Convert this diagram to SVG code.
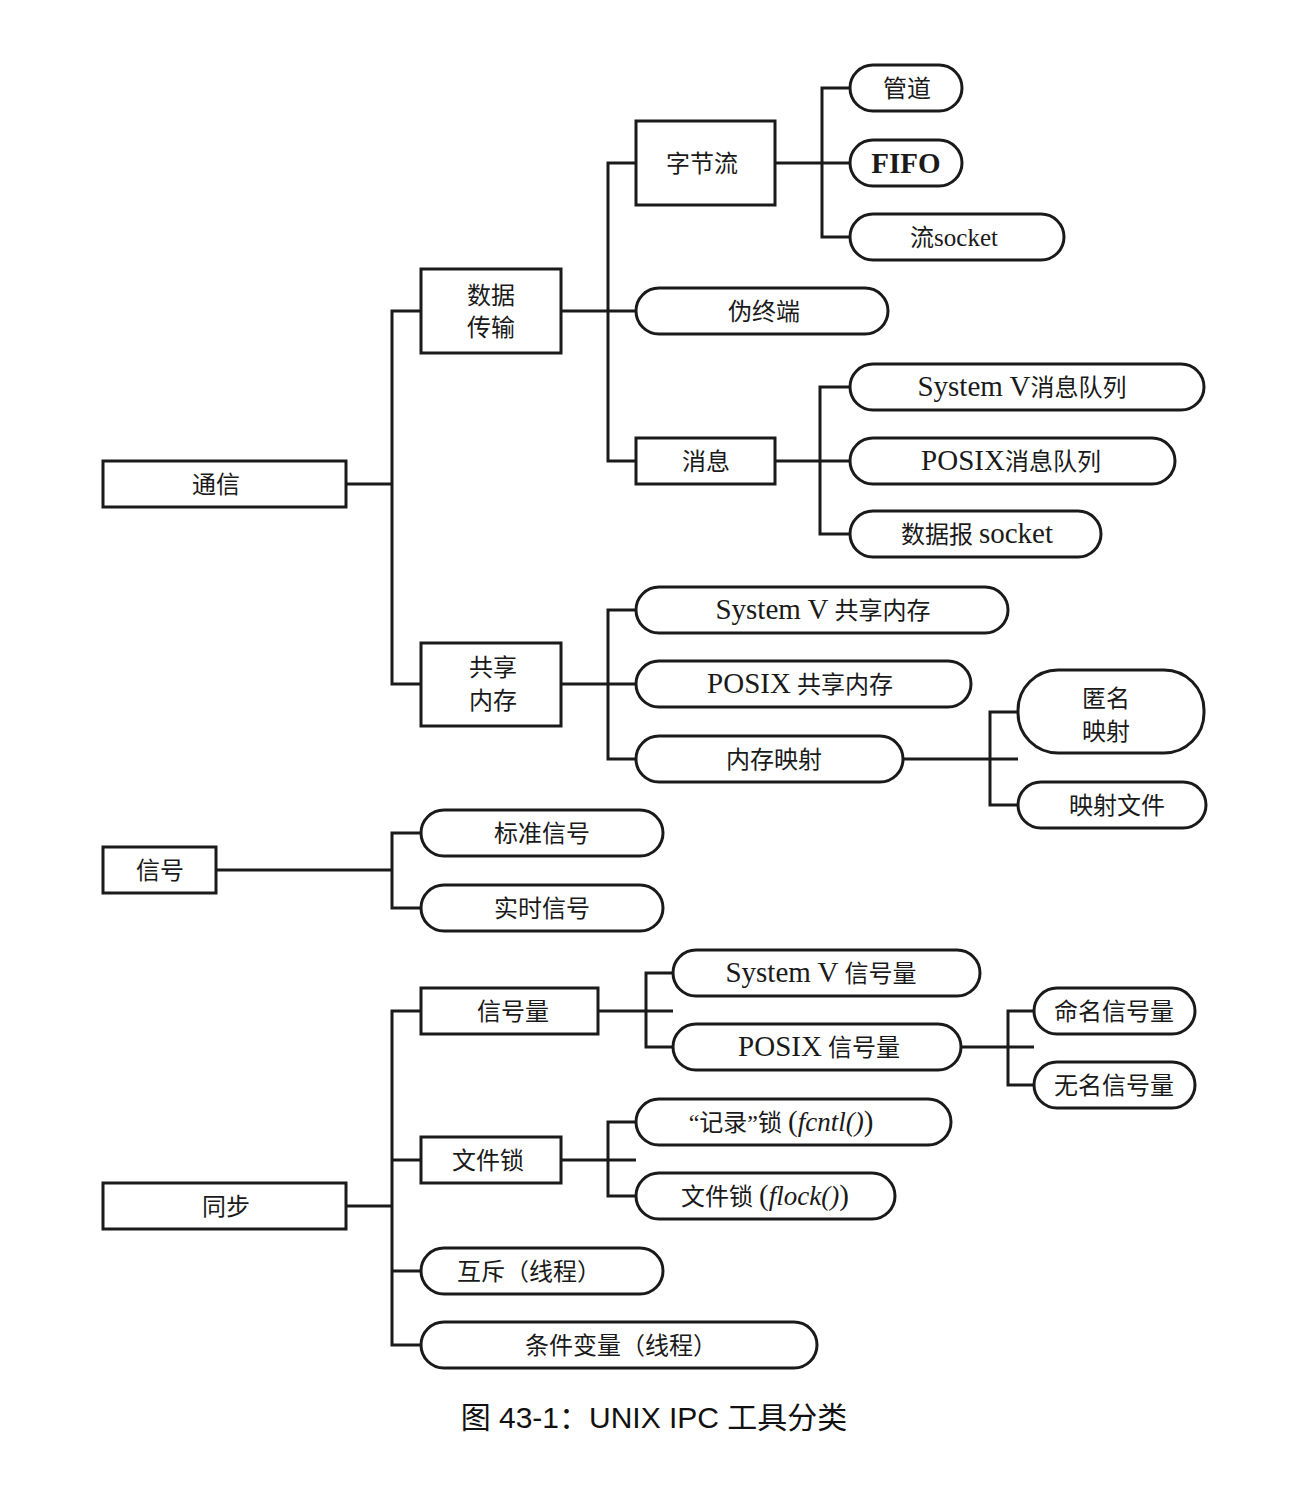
<svg xmlns="http://www.w3.org/2000/svg" width="1298" height="1490" viewBox="0 0 1298 1490">
<style>
.box{fill:#fff;stroke:#1a1a1a;stroke-width:3}
.conn path{fill:none;stroke:#1a1a1a;stroke-width:3}
text{font-family:"Liberation Serif","Noto Sans CJK SC",serif;font-size:24px;fill:#1a1a1a;text-anchor:middle}
.l{font-size:29px}
.i{font-style:italic;font-size:27px}
.cap{font-family:"Liberation Sans","Noto Sans CJK SC",sans-serif;font-size:30px;fill:#111}
</style>
<rect width="1298" height="1490" fill="#fff"/>
<g class="conn">
<path d="M346,484 H392 M421,311 H392 V684 H421"/>
<path d="M561,311 H636 M636,163 H608 V461 H636"/>
<path d="M775,163 H850 M850,88 H822 V237 H850"/>
<path d="M775,461 H850 M850,387 H820 V534 H850"/>
<path d="M561,684 H636 M636,610 H608 V759 H636"/>
<path d="M903,759 H1018 M1018,712 H990 V805 H1018"/>
<path d="M216,870 H392 M421,833 H392 V908 H421"/>
<path d="M346,1206 H392 M421,1011 H392 V1345 H421 M392,1160 H421 M392,1271 H421"/>
<path d="M598,1011 H673 M673,973 H646 V1047 H673"/>
<path d="M961,1047 H1034 M1034,1011 H1008 V1085 H1034"/>
<path d="M561,1160 H636 M636,1122 H608 V1196 H636"/>
</g>
<g id="n-tongxin"><rect class="box" x="103" y="461" width="243" height="46"/><text x="216" y="493">通信</text></g>
<g id="n-shujuchuanshu"><rect class="box" x="421" y="269" width="140" height="84"/><text x="491" y="304">数据</text><text x="491" y="336">传输</text></g>
<g id="n-gongxiangneicun"><rect class="box" x="421" y="643" width="140" height="83"/><text x="493" y="676">共享</text><text x="493" y="709">内存</text></g>
<g id="n-zijieliu"><rect class="box" x="636" y="121" width="139" height="84"/><text x="702" y="172">字节流</text></g>
<g id="n-xiaoxi"><rect class="box" x="636" y="438" width="139" height="46"/><text x="706" y="470">消息</text></g>
<g id="n-xinhao"><rect class="box" x="103" y="847" width="113" height="46"/><text x="160" y="879">信号</text></g>
<g id="n-tongbu"><rect class="box" x="103" y="1183" width="243" height="46"/><text x="226" y="1215">同步</text></g>
<g id="n-xinhaoliang"><rect class="box" x="421" y="988" width="177" height="46"/><text x="513" y="1020">信号量</text></g>
<g id="n-wenjiansuo"><rect class="box" x="421" y="1137" width="140" height="46"/><text x="488" y="1169">文件锁</text></g>
<g id="n-guandao"><rect class="box" x="850" y="65" width="112" height="46" rx="23"/><text x="907" y="97">管道</text></g>
<g id="n-fifo"><rect class="box" x="850" y="140" width="112" height="46" rx="23"/><text x="906" y="173" class="l" font-weight="bold">FIFO</text></g>
<g id="n-liusocket"><rect class="box" x="850" y="214" width="214" height="46" rx="23"/><text x="954" y="246">流<tspan font-size="25">socket</tspan></text></g>
<g id="n-weizhongduan"><rect class="box" x="636" y="288" width="252" height="46" rx="23"/><text x="764" y="320">伪终端</text></g>
<g id="n-sysvmq"><rect class="box" x="850" y="364" width="354" height="46" rx="23"/><text x="1022" y="396"><tspan class="l">System V</tspan>消息队列</text></g>
<g id="n-posixmq"><rect class="box" x="850" y="438" width="325" height="46" rx="23"/><text x="1011" y="470"><tspan class="l">POSIX</tspan>消息队列</text></g>
<g id="n-dgram"><rect class="box" x="850" y="511" width="251" height="46" rx="23"/><text x="977" y="543">数据报 <tspan class="l">socket</tspan></text></g>
<g id="n-sysvshm"><rect class="box" x="636" y="587" width="372" height="46" rx="23"/><text x="823" y="619"><tspan class="l">System V</tspan> 共享内存</text></g>
<g id="n-posixshm"><rect class="box" x="636" y="661" width="335" height="46" rx="23"/><text x="800" y="693"><tspan class="l">POSIX</tspan> 共享内存</text></g>
<g id="n-mmap"><rect class="box" x="636" y="736" width="267" height="46" rx="23"/><text x="774" y="768">内存映射</text></g>
<g id="n-anon"><rect class="box" x="1018" y="670" width="186" height="83" rx="40"/><text x="1106" y="707">匿名</text><text x="1106" y="740">映射</text></g>
<g id="n-mapfile"><rect class="box" x="1018" y="782" width="188" height="46" rx="23"/><text x="1117" y="814">映射文件</text></g>
<g id="n-stdsig"><rect class="box" x="421" y="810" width="242" height="46" rx="23"/><text x="542" y="842">标准信号</text></g>
<g id="n-rtsig"><rect class="box" x="421" y="885" width="242" height="46" rx="23"/><text x="542" y="917">实时信号</text></g>
<g id="n-sysvsem"><rect class="box" x="673" y="950" width="307" height="46" rx="23"/><text x="821" y="982"><tspan class="l">System V</tspan> 信号量</text></g>
<g id="n-posixsem"><rect class="box" x="673" y="1024" width="288" height="46" rx="23"/><text x="819" y="1056"><tspan class="l">POSIX</tspan> 信号量</text></g>
<g id="n-namedsem"><rect class="box" x="1034" y="988" width="161" height="46" rx="23"/><text x="1114" y="1020">命名信号量</text></g>
<g id="n-unnamedsem"><rect class="box" x="1034" y="1062" width="161" height="46" rx="23"/><text x="1114" y="1094">无名信号量</text></g>
<g id="n-fcntl"><rect class="box" x="636" y="1099" width="315" height="46" rx="23"/><text x="781" y="1131">“记录”锁 <tspan class="l">(</tspan><tspan class="i">fcntl()</tspan><tspan class="l">)</tspan></text></g>
<g id="n-flock"><rect class="box" x="636" y="1173" width="259" height="46" rx="23"/><text x="765" y="1205">文件锁 <tspan class="l">(</tspan><tspan class="i">flock()</tspan><tspan class="l">)</tspan></text></g>
<g id="n-mutex"><rect class="box" x="421" y="1248" width="242" height="46" rx="23"/><text x="529" y="1280">互斥（线程）</text></g>
<g id="n-cond"><rect class="box" x="421" y="1322" width="396" height="46" rx="23"/><text x="621" y="1354">条件变量（线程）</text></g>
<text class="cap" x="654" y="1428">图 43-1：UNIX IPC 工具分类</text>
</svg>
